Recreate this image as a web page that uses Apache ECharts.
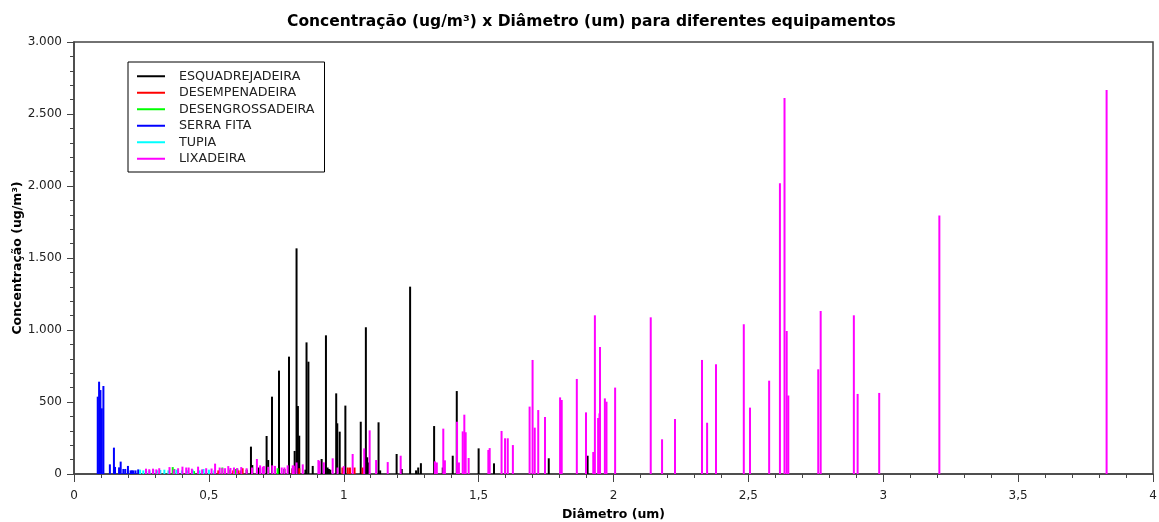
<!DOCTYPE html>
<html><head><meta charset="utf-8">
<script src="https://cdn.jsdelivr.net/npm/echarts@6/dist/echarts.min.js"></script>
<style>html,body{margin:0;padding:0;background:#fff}#c{width:1159px;height:522px}</style>
</head><body><div id="c"></div>
<script>
const seriesNames = ['ESQUADREJADEIRA','DESEMPENADEIRA','DESENGROSSADEIRA','SERRA FITA','TUPIA','LIXADEIRA'];
const seriesColors = ['#000000','#ff0000','#00ff00','#0000ff','#00ffff','#ff00ff'];

const esquadrejadeira = [[0.605,37],[0.62,25],[0.64,30],[0.656,190],[0.661,62],[0.685,45],[0.69,40],[0.714,264],[0.72,97],[0.734,537],[0.745,30],[0.76,718],[0.78,35],[0.797,815],[0.81,40],[0.818,160],[0.825,1567],[0.83,472],[0.835,266],[0.858,30],[0.862,914],[0.869,780],[0.885,56],[0.918,104],[0.934,963],[0.94,45],[0.945,35],[0.95,30],[0.972,560],[0.976,352],[0.985,294],[1.006,475],[1.063,363],[1.082,1019],[1.087,116],[1.09,80],[1.129,359],[1.135,25],[1.196,139],[1.215,35],[1.246,1301],[1.268,25],[1.276,45],[1.286,75],[1.335,333],[1.367,45],[1.404,127],[1.419,576],[1.5,178],[1.557,74],[1.76,109],[1.904,127]];
const desempenadeira = [[0.535,25],[0.56,20],[0.59,25],[0.61,25],[0.625,40],[0.66,35],[0.81,30],[0.835,40],[0.995,45],[1.015,45],[1.023,45],[1.04,45],[1.07,45]];
const desengrossadeira = [[0.366,48],[0.372,35],[0.445,20],[0.55,45],[0.575,30],[0.6,35],[0.72,30],[0.755,40]];
const serraFita = [[0.088,537],[0.093,641],[0.098,583],[0.103,456],[0.109,611],[0.133,67],[0.148,183],[0.152,49],[0.167,46],[0.173,86],[0.183,35],[0.19,35],[0.2,56],[0.21,25],[0.215,25],[0.22,25],[0.228,25],[0.238,32]];
const tupia = [[0.245,30],[0.257,25],[0.268,22],[0.28,25],[0.294,30],[0.308,25],[0.32,28],[0.335,30],[0.35,25],[0.38,30],[0.4,25],[0.42,25],[0.44,30],[0.465,25],[0.48,35],[0.5,30],[0.52,25]];
const lixadeira = [[0.267,37],[0.279,33],[0.293,37],[0.305,32],[0.316,40],[0.354,48],[0.37,32],[0.386,40],[0.402,51],[0.416,45],[0.425,45],[0.437,37],[0.46,51],[0.475,32],[0.49,40],[0.51,38],[0.523,72],[0.54,45],[0.55,40],[0.56,40],[0.572,55],[0.58,42],[0.593,45],[0.605,40],[0.62,48],[0.64,40],[0.66,45],[0.678,104],[0.69,60],[0.7,50],[0.704,55],[0.72,50],[0.735,60],[0.745,56],[0.77,45],[0.78,45],[0.792,60],[0.811,60],[0.815,58],[0.825,80],[0.848,67],[0.906,97],[0.91,90],[0.926,81],[0.959,109],[0.977,45],[1.0,55],[1.033,139],[1.076,178],[1.096,303],[1.12,97],[1.163,83],[1.211,127],[1.338,88],[1.345,80],[1.369,315],[1.375,95],[1.42,363],[1.427,80],[1.441,296],[1.447,412],[1.452,290],[1.463,111],[1.536,167],[1.541,180],[1.585,299],[1.598,248],[1.608,248],[1.627,201],[1.689,468],[1.7,792],[1.708,322],[1.721,444],[1.746,396],[1.802,532],[1.808,514],[1.864,660],[1.898,428],[1.925,153],[1.931,1102],[1.943,389],[1.948,421],[1.95,882],[1.968,525],[1.974,502],[2.006,600],[2.138,1088],[2.18,241],[2.228,382],[2.328,792],[2.347,356],[2.38,762],[2.483,1040],[2.506,461],[2.577,648],[2.617,2019],[2.634,2611],[2.642,993],[2.648,545],[2.759,727],[2.768,1132],[2.891,1102],[2.905,556],[2.985,563],[3.208,1796],[3.828,2667]];

const allData = [esquadrejadeira, desempenadeira, desengrossadeira, serraFita, tupia, lixadeira];
const FONT = 'DejaVu Sans';

const chart = echarts.init(document.getElementById('c'), null, {renderer:'canvas'});
chart.setOption({
  animation: false,
  backgroundColor: '#fff',
  title: {
    text: 'Concentração (ug/m³) x Diâmetro (um) para diferentes equipamentos',
    left: 282, top: 9,
    textStyle: {fontFamily: FONT, fontSize: 15.5, fontWeight: 'bold', color: '#000'}
  },
  legend: {
    orient: 'vertical', left: 128, top: 62,
    padding: [6, 10, 5, 9],
    borderColor: '#000', borderWidth: 1,
    itemWidth: 28, itemHeight: 2, itemGap: 0,
    icon: 'rect',
    textStyle: {fontFamily: FONT, fontSize: 12.7, lineHeight: 16.5, color: '#222', padding: [0, 0, 0, 9]},
    data: seriesNames
  },
  grid: {left: 74, right: 6, top: 42, bottom: 48, outerBoundsMode: 'none', containLabel: false,
    show: true, borderColor: '#444', borderWidth: 1.5, backgroundColor: 'transparent'},
  xAxis: {
    type: 'value', min: 0, max: 4, interval: 0.5,
    name: 'Diâmetro (um)', nameLocation: 'middle', nameGap: 34, nameMoveOverlap: false,
    nameTextStyle: {fontFamily: FONT, fontSize: 12.5, fontWeight: 'bold', color: '#000'},
    axisLine: {show: true, lineStyle: {color: '#444', width: 1.5}},
    axisTick: {show: true, length: 8, lineStyle: {color: '#444'}},
    minorTick: {show: true, splitNumber: 5, length: 4, lineStyle: {color: '#444'}},
    splitLine: {show: false},
    axisLabel: {fontFamily: FONT, fontSize: 12, color: '#222', margin: 16,
      formatter: v => String(v).replace('.', ',')}
  },
  yAxis: {
    type: 'value', min: 0, max: 3000, interval: 500,
    name: 'Concentração (ug/m³)', nameLocation: 'middle', nameGap: 50, nameRotate: 90, nameMoveOverlap: false,
    nameTextStyle: {fontFamily: FONT, fontSize: 12.5, fontWeight: 'bold', color: '#000'},
    axisLine: {show: true, lineStyle: {color: '#444', width: 1.5}},
    axisTick: {show: true, length: 7, lineStyle: {color: '#444'}},
    minorTick: {show: true, splitNumber: 5, length: 4, lineStyle: {color: '#444'}},
    splitLine: {show: false},
    axisLabel: {fontFamily: FONT, fontSize: 12, color: '#222', margin: 12,
      formatter: v => String(v).replace(/\B(?=(\d{3})+(?!\d))/g, '.')}
  },
  series: seriesNames.map((n, i) => ({
    name: n, type: 'bar', data: allData[i],
    barWidth: 2, barGap: '-100%',
    itemStyle: {color: seriesColors[i]},
    emphasis: {disabled: true}
  }))
});
</script></body></html>
